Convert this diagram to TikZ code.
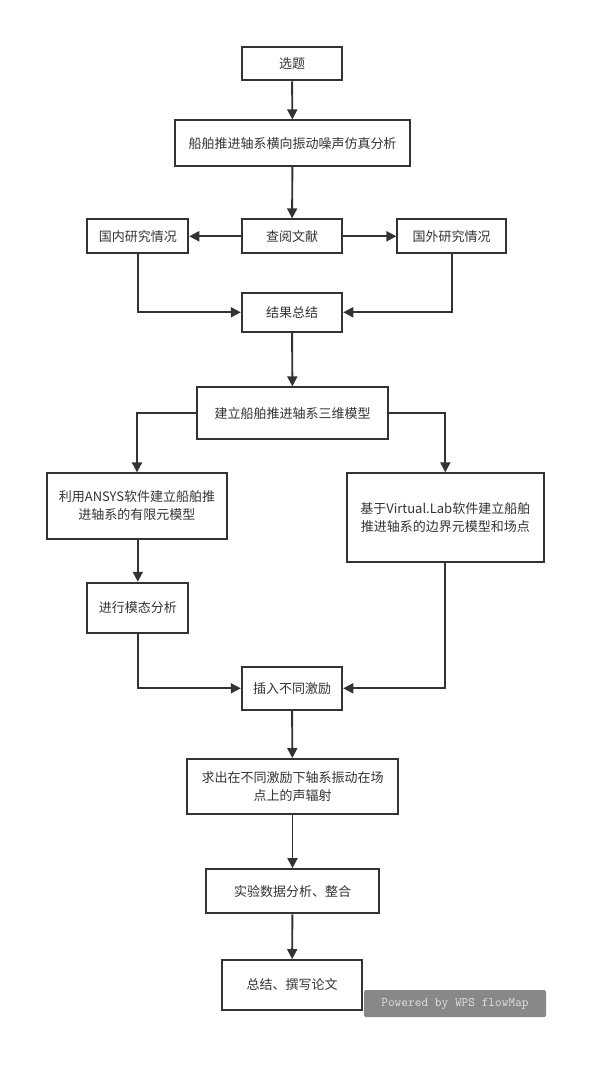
\documentclass[tikz,border=0pt]{standalone}
\usepackage{fontspec}
\setmainfont{Noto Sans CJK SC}
\usetikzlibrary{arrows.meta}
\definecolor{ink}{HTML}{333333}
\definecolor{wmfill}{HTML}{888888}
\definecolor{wmtext}{HTML}{E0E0E0}
\begin{document}
\begin{tikzpicture}[x=1pt,y=-1pt,
  box/.style={draw=ink,line width=1.9pt,text=ink,font=\fontsize{13}{18}\selectfont,align=center,inner sep=0pt},
  arr/.style={draw=ink,line width=1.9pt,-{Triangle[length=10pt,width=10pt]}},
  wm/.style={fill=wmfill,text=wmtext,rounded corners=1.5pt,inner sep=0pt,font=\ttfamily\fontsize{13}{15}\selectfont}]
\useasboundingbox (0,0) rectangle (605,1072);
\node[box,minimum width=100.6pt,minimum height=33pt] (xuanti) at (292,63.8) {选题};
\node[box,minimum width=235pt,minimum height=45.7pt] (title) at (292.5,143.2) {船舶推进轴系横向振动噪声仿真分析};
\node[box,minimum width=100.6pt,minimum height=34pt] (chayue) at (292,236.3) {查阅文献};
\node[box,minimum width=101pt,minimum height=34pt] (guonei) at (137.8,236.3) {国内研究情况};
\node[box,minimum width=108.7pt,minimum height=34pt] (guowai) at (451.7,236.3) {国外研究情况};
\node[box,minimum width=100.6pt,minimum height=39.3pt] (jieguo) at (292,312.3) {结果总结};
\node[box,minimum width=191.6pt,minimum height=52pt] (jianli) at (292.5,413.3) {建立船舶推进轴系三维模型};
\node[box,minimum width=179.4pt,minimum height=65.4pt] (ansys) at (137,506) {利用ANSYS软件建立船舶推\\进轴系的有限元模型};
\node[box,minimum width=197.3pt,minimum height=89pt] (virtual) at (445.3,517.8) {基于Virtual.Lab软件建立船舶\\推进轴系的边界元模型和场点};
\node[box,minimum width=101pt,minimum height=50pt] (motai) at (137.8,607.7) {进行模态分析};
\node[box,minimum width=100.6pt,minimum height=43.3pt] (charu) at (292,688.3) {插入不同激励};
\node[box,minimum width=211.6pt,minimum height=55pt] (qiuchu) at (292.5,786.5) {求出在不同激励下轴系振动在场\\点上的声辐射};
\node[box,minimum width=173pt,minimum height=44.3pt] (shiyan) at (292.5,891.2) {实验数据分析、整合};
\node[box,minimum width=140pt,minimum height=50pt] (zongjie) at (292,985) {总结、撰写论文};
\node[wm,minimum width=182pt,minimum height=27pt] (wmark) at (455,1003.5) {Powered by WPS flowMap};
\draw[arr] (xuanti) -- (title);
\draw[arr] (title) -- (chayue);
\draw[arr] (chayue) -- (guonei);
\draw[arr] (chayue) -- (guowai);
\draw[arr] (guonei.south) |- (jieguo.west);
\draw[arr] (guowai.south) |- (jieguo.east);
\draw[arr] (jieguo) -- (jianli);
\draw[arr] (jianli.west) -| (ansys.north);
\draw[arr] (jianli.east) -| (virtual.north);
\draw[arr] (ansys.south -| motai.north) -- (motai.north);
\draw[arr] (motai.south) |- (charu.west);
\draw[arr] (virtual.south) |- (charu.east);
\draw[arr] (charu) -- (qiuchu);
\draw[arr] (qiuchu) -- (shiyan);
\draw[arr] (shiyan) -- (zongjie);
\end{tikzpicture}
\end{document}
